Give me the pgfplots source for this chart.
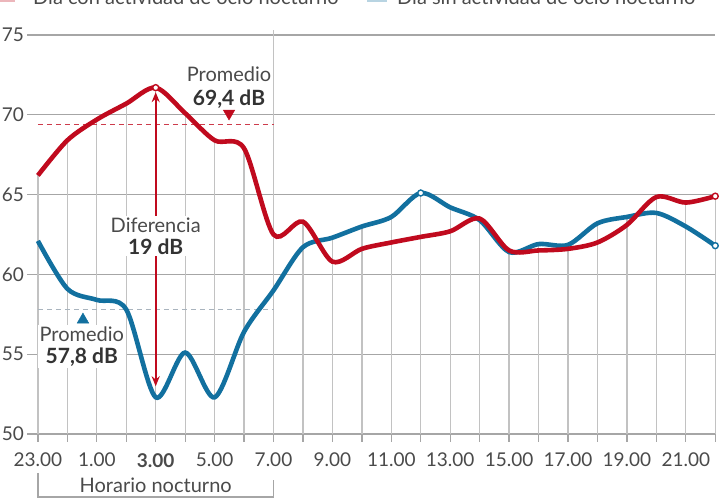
\documentclass[border=0pt]{standalone}
\usepackage{pgfplots}
\pgfplotsset{compat=1.18}
\usepackage{pgfplotstable}
\usepackage{fontspec}
\setmainfont{Lato}
\usetikzlibrary{arrows.meta}

\definecolor{rojo}{HTML}{C00A1E}
\definecolor{azul}{HTML}{12709F}
\definecolor{rejilla}{HTML}{A6A6A6}
\definecolor{rejillav}{HTML}{C2C2C2}
\definecolor{texto}{HTML}{4A4A4A}
\definecolor{oscuro}{HTML}{333333}
\definecolor{mediaazul}{HTML}{A9B4BE}

% Nivel sonoro por hora (dB); h = 0 corresponde a las 23.00
% top: altura de la línea vertical de cada hora
\pgfplotstableread{
h   con    sin    top
0   66.2   62.1   66.2
1   68.4   59.1   68.4
2   69.7   58.4   69.7
3   70.7   57.8   70.7
4   71.7   52.3   71.7
5   70.1   55.1   70.1
6   68.4   52.3   68.4
7   67.9   56.4   67.9
8   62.5   59.0   75.3
9   63.3   61.7   63.3
10  60.8   62.3   62.3
11  61.6   63.0   63.0
12  62.0   63.6   63.6
13  62.35  65.1   65.1
14  62.7   64.2   64.2
15  63.5   63.4   63.5
16  61.5   61.4   61.5
17  61.5   61.9   61.9
18  61.6   61.85  61.85
19  62.0   63.2   63.2
20  63.1   63.6   63.6
21  64.85  63.85  64.85
22  64.5   63.0   64.5
23  64.9   61.8   64.9
}\datos

\newcommand{\fuente}{\fontsize{20bp}{22bp}\selectfont}
\newcommand{\fuentetick}{\fontsize{19bp}{22bp}\selectfont}
\newcommand{\valor}[1]{\textcolor{oscuro}{\fontsize{21bp}{22bp}\selectfont\textbf{#1}}}

\begin{document}
\begin{tikzpicture}[x=1bp,y=1bp]
\useasboundingbox (-27,-66) rectangle (693,434);

\begin{axis}[
  at={(0,0)}, anchor=south west,
  x=29.45bp, y=15.96bp,
  xmin=-0.37, xmax=23, ymin=50, ymax=75,
  clip=false,
  axis line style={draw=none},
  ytick={50,55,...,75},
  ymajorgrids,
  grid style={draw=rejilla, line width=1.3bp},
  xtick={0,...,23},
  xticklabels={23.00,,1.00,,\textbf{3.00},,5.00,,7.00,,9.00,,11.00,,13.00,,15.00,,17.00,,19.00,,21.00,},
  xtick pos=bottom, ytick pos=left,
  tick align=outside,
  major tick length=8bp,
  xtick style={draw=rejilla, line width=1.3bp},
  ytick style={draw=none},
  tick label style={font=\fuentetick, text=texto},
  xticklabel style={anchor=north, inner sep=0pt, yshift=-11bp},
  yticklabel style={anchor=east, inner sep=0pt, xshift=5bp},
  /pgf/number format/assume math mode=true,
]

% líneas verticales de cada hora, hasta la curva más alta
\addplot[draw=none, mark=none, forget plot,
  error bars/.cd, y dir=plus, y explicit, error mark=none,
  error bar style={draw=rejillav, line width=1.3bp}]
  table[x=h, y expr=50, y error expr=\thisrow{top}-50]{\datos};

% promedios del horario nocturno
\addplot[rojo!80, line width=1bp, dash pattern=on 5bp off 4bp, forget plot]
  coordinates {(0,69.4) (8,69.4)};
\addplot[mediaazul, line width=1bp, dash pattern=on 5bp off 4bp, forget plot]
  coordinates {(0,57.8) (8,57.8)};

% flecha de la diferencia máxima
\draw[draw=rojo, fill=rojo, line width=2bp,
  {Stealth[length=10bp,width=8bp]}-{Stealth[length=10bp,width=8bp]},
  shorten <=4.5bp, shorten >=11bp]
  (axis cs:4,71.7) -- (axis cs:4,52.3);

\node[fill=white, inner sep=2bp, align=center, font=\fuente, text=texto]
  at (axis cs:4,62.4) {Diferencia\\\valor{19 dB}};

\node[fill=white, inner sep=2bp, align=center, font=\fuente, text=texto]
  at (axis cs:1.49,55.48) {Promedio\\\valor{57,8 dB}};

\node[inner sep=0pt, align=center, font=\fontsize{20bp}{24bp}\selectfont, text=texto]
  at (axis cs:6.49,71.68) {Promedio\\\valor{69,4 dB}};

% marcadores de los promedios
\addplot[only marks, mark=triangle*, mark size=6.7bp, rojo,
  mark options={rotate=180}, forget plot] coordinates {(6.49,70.09)};
\addplot[only marks, mark=triangle*, mark size=6.7bp, azul, forget plot]
  coordinates {(1.53,57.16)};

% series
\addplot[azul, line width=4.6bp, smooth, tension=0.5,
  mark=*, mark indices={14,24}, mark size=3bp,
  mark options={fill=white, draw=azul, line width=1.4bp}]
  table[x=h, y=sin]{\datos};
\addplot[rojo, line width=4.6bp, smooth, tension=0.5,
  mark=*, mark indices={5,24}, mark size=3bp,
  mark options={fill=white, draw=rojo, line width=1.4bp}]
  table[x=h, y=con]{\datos};

\coordinate (h0) at (axis cs:0,50);
\coordinate (h4) at (axis cs:4,50);
\coordinate (h8) at (axis cs:8,50);
\end{axis}

% horario nocturno
\draw[rejilla, line width=1.3bp]
  ([yshift=-39bp]h0) -- ([yshift=-63bp]h0) -- ([yshift=-63bp]h8) -- ([yshift=-46bp]h8);
\node[font=\fuente, text=texto] at ([yshift=-51bp]h4) {Horario nocturno};

% leyenda
\draw[rojo!30, line width=6bp] (-27,435) -- (-12,435);
\node[anchor=base west, inner sep=0pt, font=\fuente, text=texto] at (6,429)
  {Día con actividad de ocio nocturno};
\draw[azul!30, line width=6bp] (340,435) -- (360,435);
\node[anchor=base west, inner sep=0pt, font=\fuente, text=texto] at (370,429)
  {Día sin actividad de ocio nocturno};
\end{tikzpicture}
\end{document}
